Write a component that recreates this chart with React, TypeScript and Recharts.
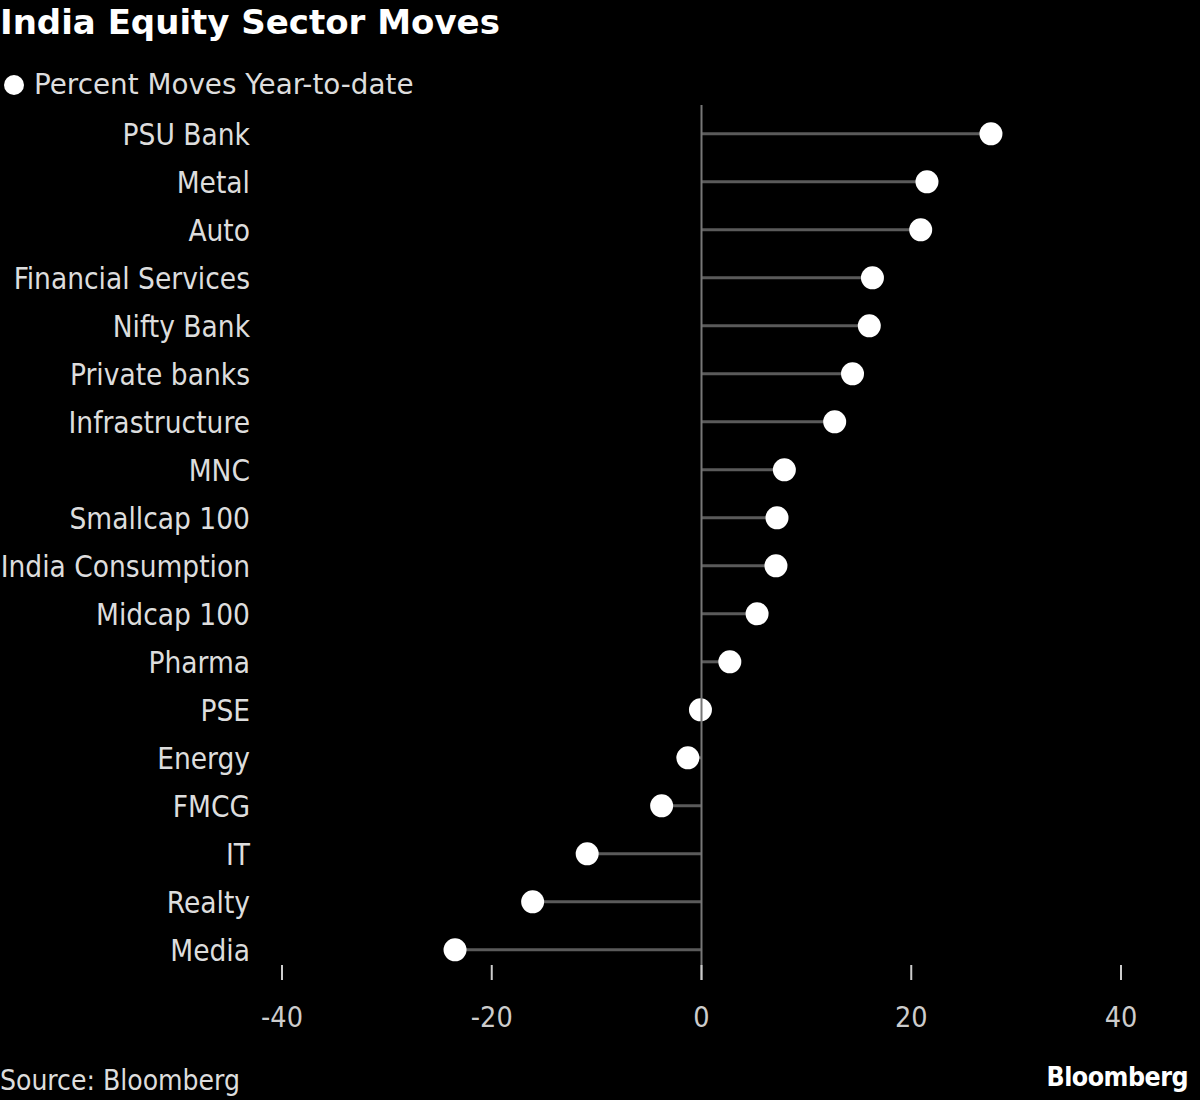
import React from "react";
import {
  ComposedChart,
  XAxis,
  YAxis,
  Bar,
  ReferenceLine,
} from "recharts";

const sectors = [
  "PSU Bank",
  "Metal",
  "Auto",
  "Financial Services",
  "Nifty Bank",
  "Private banks",
  "Infrastructure",
  "MNC",
  "Smallcap 100",
  "India Consumption",
  "Midcap 100",
  "Pharma",
  "PSE",
  "Energy",
  "FMCG",
  "IT",
  "Realty",
  "Media",
];

const moves = [
  27.6, 21.5, 20.9, 16.3, 16.0, 14.4, 12.7, 7.9, 7.2, 7.1, 5.3, 2.7, -0.1, -1.3,
  -3.8, -10.9, -16.1, -23.5,
];

const xTicks = [-40, -20, 0, 20, 40];

const data = sectors.map((name, i) => ({ name, value: moves[i] }));

const LABEL_FONT = "'DejaVu Sans Condensed', 'DejaVu Sans', sans-serif";

function Lollipop(props: any) {
  const { x, y, width, height, payload } = props;
  const cy = y + height / 2;
  const a = x;
  const b = x + width;
  const v = payload.value;
  const dotX = v >= 0 ? Math.max(a, b) : Math.min(a, b);
  const baseX = v >= 0 ? Math.min(a, b) : Math.max(a, b);
  return (
    <g>
      <line x1={baseX} x2={dotX} y1={cy} y2={cy} stroke="#5a5a5a" strokeWidth={3} />
      <circle cx={dotX} cy={cy} r={11.5} fill="#ffffff" />
    </g>
  );
}

function CategoryTick(props: any) {
  const { x, y, payload } = props;
  return (
    <text
      x={x - 32}
      y={y}
      dy="0.36em"
      textAnchor="end"
      fill="#dddddd"
      fontSize={29.5}
      fontFamily={LABEL_FONT}
    >
      {payload.value}
    </text>
  );
}

function ValueTick(props: any) {
  const { x, y, payload } = props;
  return (
    <g>
      <line x1={x} x2={x} y1={y - 9} y2={y + 6} stroke="#cccccc" strokeWidth={2} />
      <text
        x={x}
        y={y + 53}
        textAnchor="middle"
        fill="#cccccc"
        fontSize={28.5}
        fontFamily={LABEL_FONT}
      >
        {payload.value}
      </text>
    </g>
  );
}

function ZeroLine(props: any) {
  const { x1, x2, y1, y2 } = props;
  return (
    <line
      x1={x1}
      x2={x2}
      y1={Math.min(y1, y2) - 5}
      y2={Math.max(y1, y2) + 6}
      stroke="#777777"
      strokeWidth={2}
    />
  );
}

export default function App() {
  return (
    <div
      style={{
        position: "absolute",
        left: 0,
        top: 0,
        width: 1200,
        height: 1100,
        background: "#000000",
        overflow: "hidden",
      }}
    >
      <div
        style={{
          position: "absolute",
          left: 0,
          top: 1,
          color: "#ffffff",
          fontFamily: "'DejaVu Sans', sans-serif",
          fontWeight: "bold",
          fontSize: 34,
          lineHeight: "42px",
        }}
      >
        India Equity Sector Moves
      </div>
      <div
        style={{
          position: "absolute",
          left: 4,
          top: 67,
          display: "flex",
          alignItems: "center",
          color: "#dddddd",
          fontFamily: "'DejaVu Sans', sans-serif",
          fontSize: 27.8,
          lineHeight: "36px",
        }}
      >
        <span
          style={{
            display: "inline-block",
            width: 20,
            height: 20,
            borderRadius: 10,
            background: "#ffffff",
            marginRight: 10,
          }}
        />
        Percent Moves Year-to-date
      </div>
      <div style={{ position: "absolute", left: 0, top: 0 }}>
        <ComposedChart
          width={1200}
          height={1100}
          data={data}
          layout="vertical"
          margin={{ top: 110, right: 79, bottom: 66, left: 0 }}
        >
          <XAxis
            type="number"
            domain={[-40, 40]}
            ticks={xTicks}
            axisLine={false}
            tickLine={false}
            tickSize={0}
            tickMargin={0}
            height={60}
            tick={<ValueTick />}
            interval={0}
          />
          <YAxis
            type="category"
            dataKey="name"
            width={282}
            axisLine={false}
            tickLine={false}
            tickSize={0}
            tickMargin={0}
            tick={<CategoryTick />}
            interval={0}
          />
          <ReferenceLine x={0} shape={<ZeroLine />} />
          <Bar dataKey="value" shape={<Lollipop />} isAnimationActive={false} />
        </ComposedChart>
      </div>
      <div
        style={{
          position: "absolute",
          left: 0,
          top: 1064,
          color: "#dddddd",
          fontFamily: LABEL_FONT,
          fontSize: 28,
          lineHeight: "34px",
        }}
      >
        Source: Bloomberg
      </div>
      <div
        style={{
          position: "absolute",
          right: 12,
          top: 1061,
          color: "#ffffff",
          fontFamily: "'DejaVu Sans Condensed', 'DejaVu Sans', sans-serif",
          fontWeight: "bold",
          fontSize: 26.5,
          lineHeight: "32px",
          letterSpacing: -0.5,
        }}
      >
        Bloomberg
      </div>
    </div>
  );
}
